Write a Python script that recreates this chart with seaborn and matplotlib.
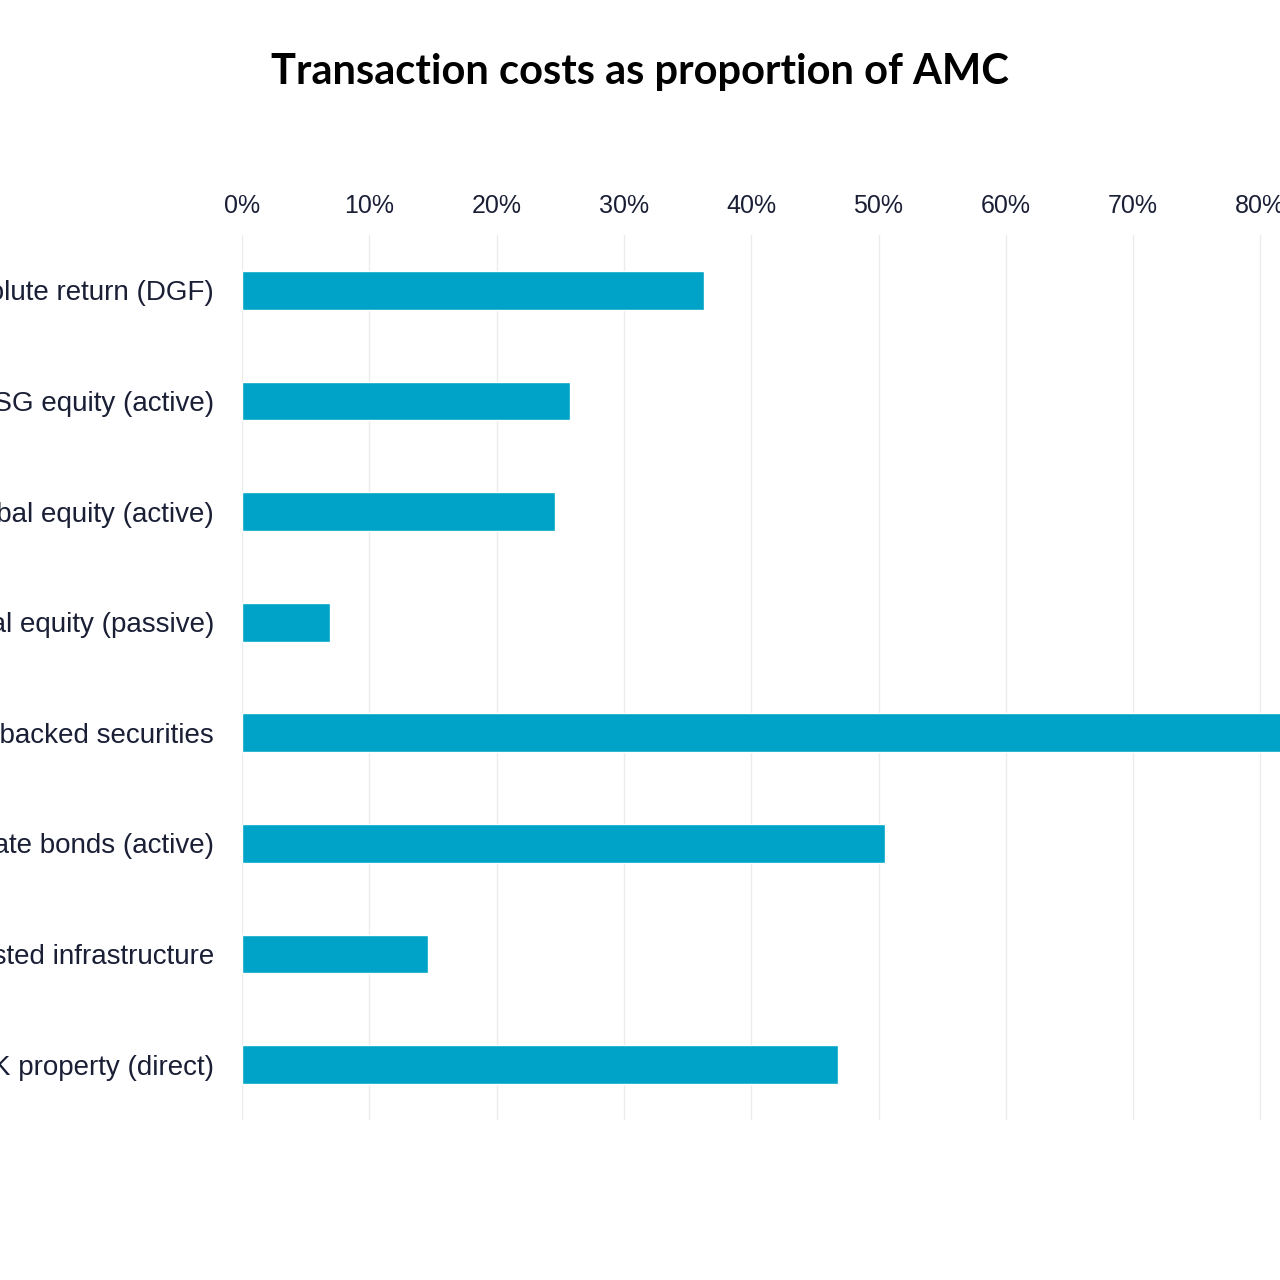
import matplotlib
matplotlib.use("Agg")
import matplotlib.pyplot as plt
import matplotlib.ticker as mticker
import pandas as pd
import seaborn as sns

categories = ["Absolute return (DGF)", "ESG equity (active)", "Global equity (active)",
              "Global equity (passive)", "Asset-backed securities", "Corporate bonds (active)",
              "Listed infrastructure", "UK property (direct)"]
values = [36.3, 25.8, 24.6, 6.9, 95.0, 50.5, 14.6, 46.8]

df = pd.DataFrame({"category": categories, "value": values})

sns.set_theme(style="white")
plt.rcParams['font.family'] = ['Liberation Sans', 'DejaVu Sans']

fig = plt.figure(figsize=(12.8, 12.8), dpi=100)
ax = fig.add_axes([242 / 1280, 0.125, 1273 / 1280, 885 / 1280])

sns.barplot(data=df, x="value", y="category", orient="h", color="#00A3C8",
            width=0.35, saturation=1, ax=ax)

ax.set_xlim(0, 100)
ax.set_ylim(7.5, -0.5)
ax.xaxis.set_major_locator(mticker.MultipleLocator(10))
ax.xaxis.set_major_formatter(mticker.FuncFormatter(lambda v, p: f"{v:.0f}%"))
ax.xaxis.tick_top()
ax.tick_params(axis="x", length=0, pad=12, labelsize=18, labelcolor="#1a1f36")
ax.tick_params(axis="y", length=0, pad=20, labelsize=20, labelcolor="#1a1f36")
ax.grid(axis="x", color="#ececec", linewidth=1)
ax.set_axisbelow(True)
for s in ax.spines.values():
    s.set_visible(False)
ax.set_xlabel("")
ax.set_ylabel("")

fig.text(0.5, 1 - 72 / 1280, "Transaction costs as proportion of AMC", ha="center", va="center",
         fontsize=30, fontweight="bold", color="#000000", family=['Lato', 'DejaVu Sans'])

fig.savefig("out.png", dpi=100)
